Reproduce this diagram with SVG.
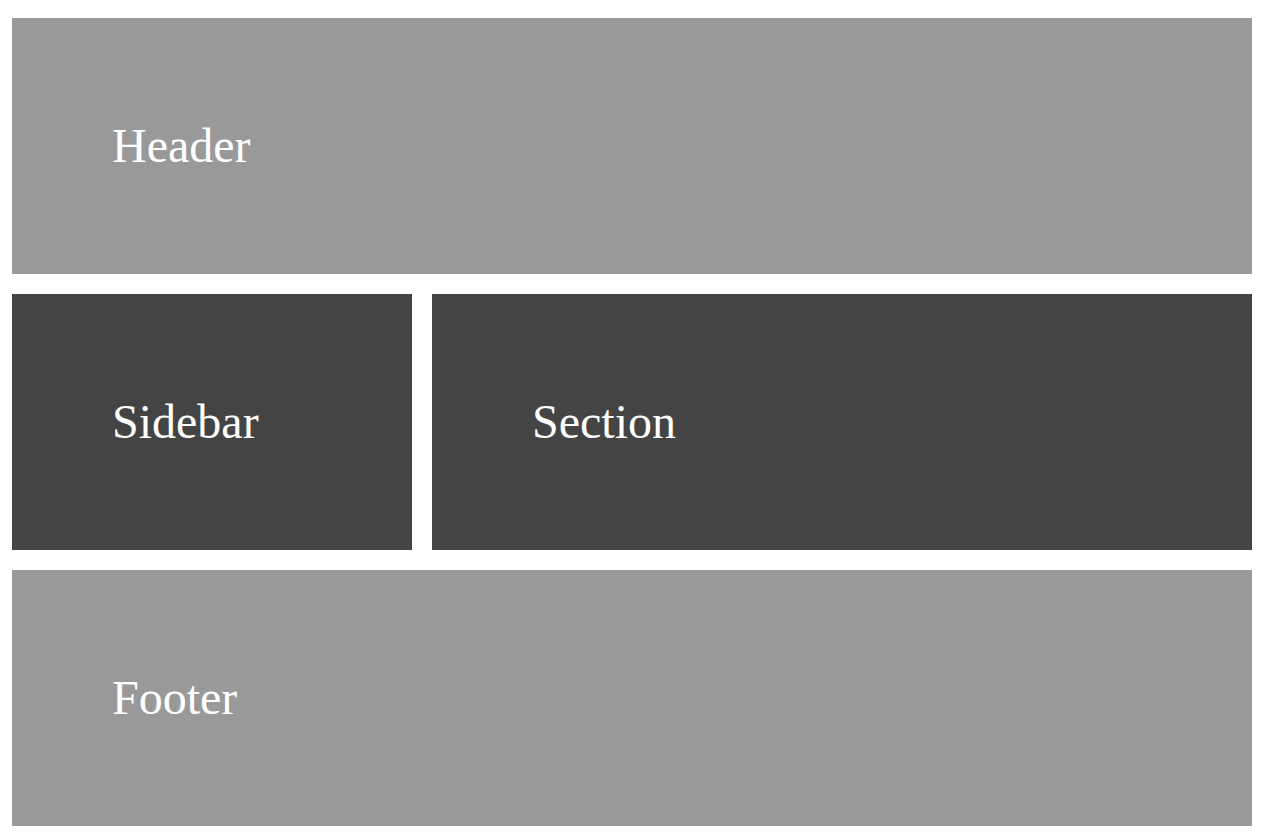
<svg xmlns="http://www.w3.org/2000/svg" width="1268" height="836" viewBox="0 0 1268 836">
<style>
.light{fill:#999999}
.dark{fill:#444444}
.lbl{fill:#ffffff;font-family:"Liberation Serif","Times New Roman",serif;font-size:48px}
</style>
<rect width="1268" height="836" fill="#ffffff"/>
<g id="header"><rect class="light" x="12" y="18" width="1240" height="256"/><text class="lbl" x="112" y="162">Header</text></g>
<g id="sidebar"><rect class="dark" x="12" y="294" width="400" height="256"/><text class="lbl" x="112" y="438">Sidebar</text></g>
<g id="section"><rect class="dark" x="432" y="294" width="820" height="256"/><text class="lbl" x="532" y="438">Section</text></g>
<g id="footer"><rect class="light" x="12" y="570" width="1240" height="256"/><text class="lbl" x="112" y="714">Footer</text></g>
<g id="connectors"></g>
</svg>
